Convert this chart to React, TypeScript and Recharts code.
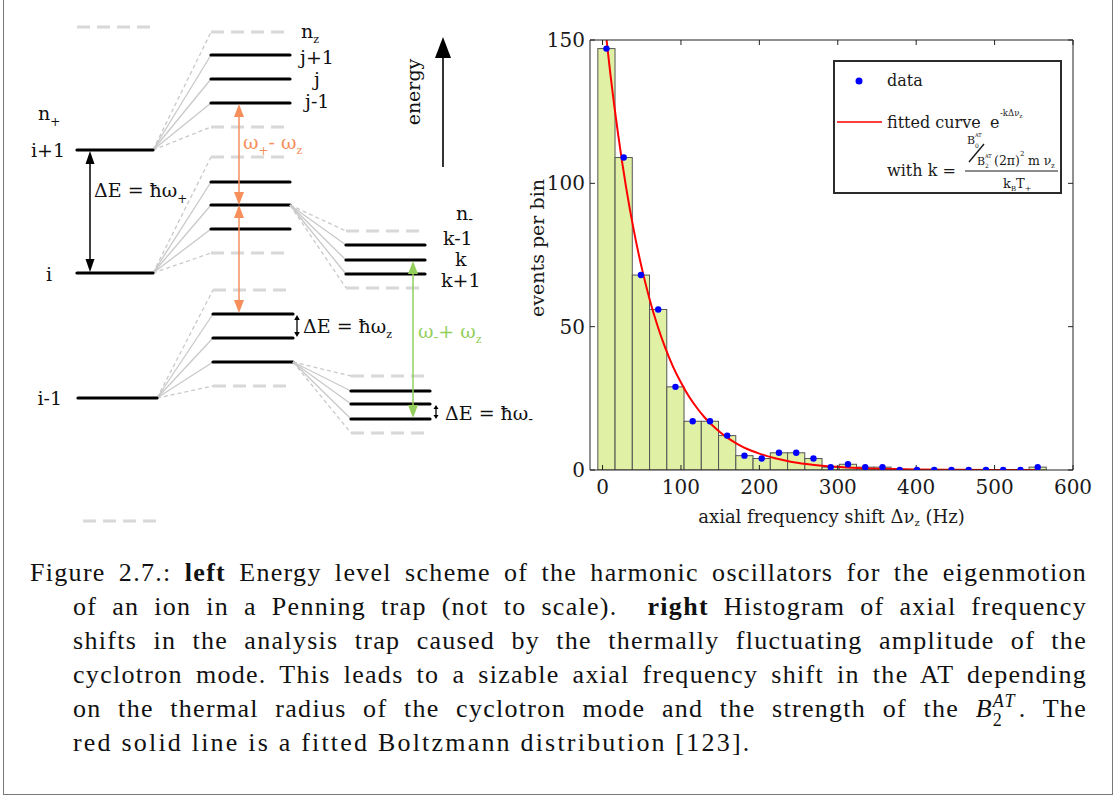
import { Bar, ComposedChart, Line, Scatter, XAxis, YAxis, Label } from "recharts";

// histogram of axial frequency shifts (bin centres in Hz, events per bin)
const binCenters = [5, 27, 49, 71, 93, 115, 137, 159, 181, 203, 225, 247, 269, 291, 313, 335, 357, 379, 401, 423, 445, 467, 489, 511, 533, 555];
const counts = [147, 109, 68, 56, 29, 17, 17, 12, 5, 4, 6, 6, 4, 1, 2, 1, 1, 0, 0, 0, 0, 0, 0, 0, 0, 1];

// fitted Boltzmann curve
const fitShift = [4, 10, 20, 30, 40, 50, 60, 70, 80, 90, 100, 110, 120, 130, 140, 150, 160, 170, 180, 190, 200, 220, 240, 260, 280, 300, 330, 360, 400, 450, 500, 553];
const fitCounts = [152.8, 138.1, 116.8, 98.7, 83.4, 70.5, 59.6, 50.4, 42.6, 36.0, 30.5, 25.7, 21.8, 18.4, 15.6, 13.2, 11.1, 9.4, 7.9, 6.7, 5.7, 4.1, 2.9, 2.1, 1.5, 1.1, 0.6, 0.4, 0.2, 0.1, 0.04, 0.02];

const xTicks = [0, 100, 200, 300, 400, 500, 600];
const yTicks = [0, 50, 100, 150];

const histRows = binCenters.map((f, i) => ({ f, count: counts[i] }));
const fitRows = fitShift.map((f, i) => ({ f, fit: fitCounts[i] }));

const SERIF = "'DejaVu Serif', serif";
const ORANGE = "#f78f5c";
const GREEN = "#93cf5c";
const FAN = "#c9c9c9";
const DASH = "#d8d8d8";
const BIN_PX = 17.2;

// level scheme: sub-levels fanning out of a parent level
const levelGroups = [
  { from: [153, 150], x1: 211, x2: 290, dashed: [32, 127], solid: [55, 79, 103] },
  { from: [153, 273], x1: 211, x2: 290, dashed: [157, 253], solid: [182, 205, 229] },
  { from: [157, 398], x1: 213, x2: 293, dashed: [290, 386], solid: [314, 338, 362] },
  { from: [290, 205], x1: 346, x2: 425, dashed: [231, 288], solid: [245, 260, 274] },
  { from: [293, 362], x1: 351, x2: 430, dashed: [376, 433], solid: [391, 404, 419] },
];

function VArrow({ x, y1, y2, color, hl, hw, w = 1.5 }: any) {
  return (
    <g>
      <line x1={x} y1={y1 + hl - 1} x2={x} y2={y2 - hl + 1} stroke={color} strokeWidth={w} />
      <polygon points={`${x},${y1} ${x - hw},${y1 + hl} ${x + hw},${y1 + hl}`} fill={color} />
      <polygon points={`${x},${y2} ${x - hw},${y2 - hl} ${x + hw},${y2 - hl}`} fill={color} />
    </g>
  );
}

function Scheme() {
  const solidLevel = (x1: number, x2: number, y: number, k: string) => (
    <line key={k} x1={x1} y1={y} x2={x2} y2={y} stroke="#000" strokeWidth={3.2} strokeLinecap="round" />
  );
  const dashLevel = (x1: number, x2: number, y: number, k: string) => (
    <line key={k} x1={x1} y1={y} x2={x2} y2={y} stroke={DASH} strokeWidth={3} strokeDasharray="13 7" />
  );
  return (
    <svg width={560} height={540} style={{ position: "absolute", left: 0, top: 0 }} fontFamily={SERIF} fontSize={19} fill="#111">
      {levelGroups.map((g, gi) => (
        <g key={gi}>
          {g.solid.map((y, i) => (
            <line key={"fs" + i} x1={g.from[0]} y1={g.from[1]} x2={g.x1} y2={y} stroke={FAN} strokeWidth={1.3} />
          ))}
          {g.dashed.map((y, i) => (
            <line key={"fd" + i} x1={g.from[0]} y1={g.from[1]} x2={g.x1} y2={y} stroke={FAN} strokeWidth={1.3} strokeDasharray="4 3" />
          ))}
          {g.dashed.map((y, i) => dashLevel(g.x1, g.x2, y, "d" + i))}
          {g.solid.map((y, i) => solidLevel(g.x1, g.x2, y, "s" + i))}
        </g>
      ))}
      {dashLevel(77, 157, 27, "top")}
      {dashLevel(83, 163, 521, "bot")}
      {solidLevel(77, 153, 150, "ip1")}
      {solidLevel(77, 153, 273, "i")}
      {solidLevel(78, 157, 398, "im1")}

      <VArrow x={90} y1={151} y2={272} color="#000" hl={13} hw={4.5} />
      <VArrow x={239} y1={104} y2={205} color={ORANGE} hl={13} hw={5} />
      <VArrow x={239} y1={205} y2={313} color={ORANGE} hl={13} hw={5} />
      <VArrow x={413} y1={261} y2={418} color={GREEN} hl={13} hw={5} />
      <VArrow x={297} y1={315} y2={337} color="#000" hl={5} hw={2.8} w={1.3} />
      <VArrow x={436} y1={405} y2={419} color="#000" hl={4} hw={2.5} w={1.3} />

      {/* energy axis */}
      <line x1={443} y1={56} x2={443} y2={167} stroke="#000" strokeWidth={1.6} />
      <polygon points="443,37 435,58 451,58" fill="#000" />
      <text x={413} y={92} transform="rotate(-90 413 92)" textAnchor="middle" dominantBaseline="central">energy</text>

      <text x={38} y={120}>n<tspan fontSize={12} dy={6}>+</tspan></text>
      <text x={65} y={157} textAnchor="end">i+1</text>
      <text x={46} y={281}>i</text>
      <text x={62} y={405} textAnchor="end">i-1</text>
      <text x={94} y={197}>ΔE = ħω<tspan fontSize={12} dy={6}>+</tspan></text>

      <text x={301} y={38}>n<tspan fontSize={11} dy={5}>z</tspan></text>
      <text x={300} y={64}>j+1</text>
      <text x={314} y={86}>j</text>
      <text x={305} y={108}>j-1</text>
      <text x={243} y={149} fill={ORANGE}>ω<tspan fontSize={12} dy={6}>+</tspan><tspan dy={-6}>- ω</tspan><tspan fontSize={11} dy={5}>z</tspan></text>
      <text x={303} y={333}>ΔE = ħω<tspan fontSize={11} dy={5}>z</tspan></text>

      <text x={456} y={220}>n<tspan fontSize={14} dy={4}>-</tspan></text>
      <text x={443} y={245}>k-1</text>
      <text x={455} y={266}>k</text>
      <text x={441} y={287}>k+1</text>
      <text x={418} y={338} fill={GREEN}>ω<tspan fontSize={14} dy={4}>-</tspan><tspan dy={-4}>+ ω</tspan><tspan fontSize={11} dy={5}>z</tspan></text>
      <text x={445} y={420}>ΔE = ħω<tspan fontSize={14} dy={4}>-</tspan></text>
    </svg>
  );
}

function XTitle(props: any) {
  const { x, y, width, height } = props.viewBox;
  return (
    <text x={x + width / 2} y={y + height - 17} textAnchor="middle" fontFamily={SERIF} fontSize={18} fill="#1a1a1a">
      axial frequency shift Δν<tspan fontSize={10} dy={3}>z</tspan>
      <tspan dy={-3}> (Hz)</tspan>
    </text>
  );
}

function YTitle(props: any) {
  const { x, y, height } = props.viewBox;
  const cx = x + 17;
  const cy = y + height / 2 - 7;
  return (
    <text x={cx} y={cy} transform={`rotate(-90 ${cx} ${cy})`} textAnchor="middle" dominantBaseline="central" fontFamily={SERIF} fontSize={19} fill="#1a1a1a">
      events per bin
    </text>
  );
}

const DataDot = (p: any) => <circle cx={p.cx} cy={p.cy} r={3.2} fill="#0000ff" />;

// histogram bin: full bin width, centred on the bar position from the x scale
const BinRect = (p: any) => {
  if (!p.height || p.height <= 0) return <g />;
  const cx = p.x + p.width / 2;
  return <rect x={cx - BIN_PX / 2} y={p.y} width={BIN_PX} height={p.height} fill="#e0f0a5" stroke="#555" strokeWidth={1} />;
};

const tickStyle = { fontFamily: SERIF, fontSize: 20, fill: "#1a1a1a" };
const noLabel = () => "";

function Histogram() {
  return (
    <div style={{ position: "absolute", left: 520, top: 20 }}>
      <ComposedChart width={580} height={520} data={histRows} margin={{ top: 20, right: 27, bottom: 0, left: 0 }}>
        <XAxis xAxisId="b" dataKey="f" type="number" domain={[-16, 600]} ticks={xTicks} allowDataOverflow
          tickLine={false} tickSize={8} tickMargin={2} axisLine={{ stroke: "#222" }} tick={tickStyle} height={70}>
          <Label content={XTitle} />
        </XAxis>
        <XAxis xAxisId="bm" dataKey="f" type="number" domain={[-16, 600]} ticks={xTicks} allowDataOverflow mirror
          axisLine={false} tickSize={5} tickLine={{ stroke: "#222" }} tickFormatter={noLabel} />
        <XAxis xAxisId="t" orientation="top" dataKey="f" type="number" domain={[-16, 600]} ticks={xTicks} allowDataOverflow mirror
          axisLine={{ stroke: "#222" }} tickSize={5} tickLine={{ stroke: "#222" }} tickFormatter={noLabel} />
        <YAxis yAxisId="l" type="number" domain={[0, 150]} ticks={yTicks} allowDataOverflow width={70}
          tickLine={false} tickSize={3} tickMargin={2} axisLine={{ stroke: "#222" }} tick={tickStyle}>
          <Label content={YTitle} />
        </YAxis>
        <YAxis yAxisId="lm" type="number" domain={[0, 150]} ticks={yTicks} allowDataOverflow mirror
          axisLine={false} tickSize={5} tickLine={{ stroke: "#222" }} tickFormatter={noLabel} />
        <YAxis yAxisId="r" orientation="right" type="number" domain={[0, 150]} ticks={yTicks} allowDataOverflow mirror
          axisLine={{ stroke: "#222" }} tickSize={5} tickLine={{ stroke: "#222" }} tickFormatter={noLabel} />
        <Bar xAxisId="b" yAxisId="l" dataKey="count" barSize={17} shape={BinRect} isAnimationActive={false} />
        <Line xAxisId="b" yAxisId="l" data={fitRows} dataKey="fit" type="monotone" stroke="#ff0000" strokeWidth={2} dot={false} isAnimationActive={false} />
        <Scatter xAxisId="b" yAxisId="l" dataKey="count" shape={DataDot} isAnimationActive={false} />
      </ComposedChart>
    </div>
  );
}

function LegendBox() {
  return (
    <svg width={229} height={134} style={{ position: "absolute", left: 833, top: 60 }} fontFamily={SERIF} fill="#1a1a1a">
      <rect x={1} y={1} width={227} height={132} fill="#fff" stroke="#2b2b2b" strokeWidth={2} />
      <circle cx={26} cy={21} r={3.5} fill="#0000ff" />
      <text x={54} y={26} fontSize={16}>data</text>
      <line x1={4} y1={62} x2={49} y2={62} stroke="#ff0000" strokeWidth={1.5} />
      <text x={54} y={68} fontSize={16}>fitted curve</text>
      <text x={157} y={68} fontSize={16}>e</text>
      <text x={167} y={56} fontSize={8.5}>-kΔν<tspan fontSize={6} dy={2}>z</tspan></text>
      <text x={54} y={116} fontSize={16}>with k =</text>
      {/* fraction */}
      <text x={134} y={84} fontSize={11}>B</text>
      <text x={142} y={88} fontSize={6}>0</text>
      <text x={142} y={77} fontSize={5}>AT</text>
      <line x1={136} y1={102} x2={151} y2={84} stroke="#1a1a1a" strokeWidth={1.4} />
      <text x={144} y={105} fontSize={11}>B</text>
      <text x={152} y={108} fontSize={6}>2</text>
      <text x={152} y={98} fontSize={5}>AT</text>
      <text x={161} y={105} fontSize={12.5}>(2π)</text>
      <text x={187} y={96} fontSize={7}>2</text>
      <text x={195} y={105} fontSize={12.5}>m ν</text>
      <text x={218} y={108} fontSize={7}>z</text>
      <line x1={132} y1={111} x2={225} y2={111} stroke="#1a1a1a" strokeWidth={1.2} />
      <text x={170} y={128} fontSize={13}>k<tspan fontSize={7} dy={3}>B</tspan><tspan dy={-3}>T</tspan><tspan fontSize={8} dy={3}>+</tspan></text>
    </svg>
  );
}

const capFont = "'Liberation Serif', 'Times New Roman', serif";
const lineStyle = (left: number, top: number, last = false): any => ({
  position: "absolute",
  left,
  top,
  width: 1087 - left,
  height: 34,
  lineHeight: "34px",
  fontSize: 26,
  letterSpacing: last ? "2.2px" : "1.3px",
  fontFamily: capFont,
  color: "#111",
  whiteSpace: "nowrap",
  textAlign: last ? "left" : "justify",
  textAlignLast: last ? "left" : "justify",
});

function Caption() {
  return (
    <div>
      <div style={lineStyle(30, 556)}>Figure 2.7.: <b>left</b> Energy level scheme of the harmonic oscillators for the eigenmotion</div>
      <div style={lineStyle(73, 590)}>of an ion in a Penning trap (not to scale). &nbsp;<b>right</b> Histogram of axial frequency</div>
      <div style={lineStyle(73, 624)}>shifts in the analysis trap caused by the thermally fluctuating amplitude of the</div>
      <div style={lineStyle(73, 658)}>cyclotron mode. This leads to a sizable axial frequency shift in the AT depending</div>
      <div style={lineStyle(73, 692)}>
        on the thermal radius of the cyclotron mode and the strength of the{" "}
        <span style={{ whiteSpace: "nowrap" }}>
          <i>B</i>
          <span style={{ display: "inline-block", position: "relative", width: 26 }}>
            <span style={{ position: "absolute", left: 0, top: -25, fontSize: 18, lineHeight: "18px" }}><i>AT</i></span>
            <span style={{ position: "absolute", left: 0, top: -6, fontSize: 18, lineHeight: "18px" }}>2</span>
          </span>
          .
        </span>{" "}
        The
      </div>
      <div style={lineStyle(73, 726, true)}>red solid line is a fitted Boltzmann distribution [123].</div>
    </div>
  );
}

export default function App() {
  return (
    <div style={{ position: "absolute", left: 0, top: 0, width: 1115, height: 798, background: "#fff" }}>
      <div style={{ position: "absolute", left: 3, top: -2, width: 1108, height: 796, border: "1px solid #777", borderTop: "none" }} />
      <Scheme />
      <Histogram />
      <LegendBox />
      <Caption />
    </div>
  );
}
